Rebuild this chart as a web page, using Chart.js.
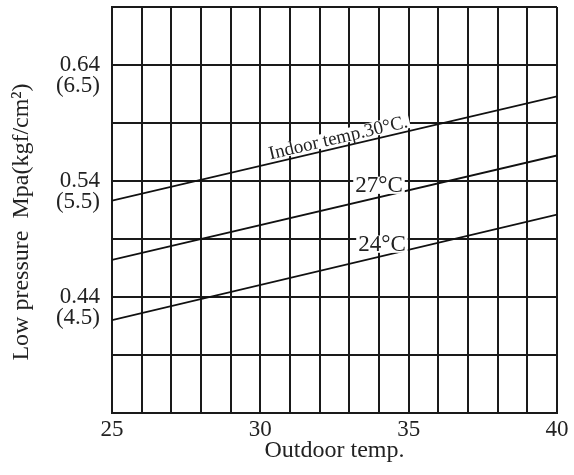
<!DOCTYPE html>
<html lang="en">

<head>
    <meta charset="UTF-8" />
    <title>Low pressure</title>
    <script src="https://cdn.jsdelivr.net/npm/chart.js"></script>
    <style>
        body { margin: 0; background: #fff; }
        .box_grafico { width: 574px; height: 475px; }
    </style>
</head>

<body>
    <div class="box_grafico">
        <canvas id="mychart_pressao"></canvas>
    </div>
</body>

<script>

    // dados
    var temp_externa = [25, 40];
    var indoor_30 = [0.523, 0.613];
    var indoor_27 = [0.472, 0.562];
    var indoor_24 = [0.420, 0.511];
    var nomes_linhas = ['Indoor temp.30°C.', '27°C', '24°C'];

    var grade_y = [0.34, 0.39, 0.44, 0.49, 0.54, 0.59, 0.64, 0.69];
    var ticks_mpa = [0.44, 0.54, 0.64];
    var ticks_kgf = ['(4.5)', '(5.5)', '(6.5)'];
    var ticks_x = [25, 30, 35, 40];

    var fonte = 'Liberation Serif, Times New Roman, serif';

    function pontos(valores) {
        var lista = [];
        for (var i = 0; i < temp_externa.length; i++) {
            lista.push({ x: temp_externa[i], y: valores[i] });
        }
        return lista;
    }

    // rotulos das linhas, com fundo branco por cima da grade
    var rotulos = {
        id: 'rotulos',
        afterDatasetsDraw: function (chart) {
            var ctx = chart.ctx;
            var sx = chart.scales.x;
            var sy = chart.scales.y;
            var config = [
                { ds: 0, x: 32.7, dist: 10, gira: true, size: 19 },
                { ds: 1, x: 34.0, dist: 12, gira: false, size: 23 },
                { ds: 2, x: 34.1, dist: 12, gira: false, size: 23 }
            ];
            config.forEach(function (c) {
                var d = chart.data.datasets[c.ds].data;
                var x0 = sx.getPixelForValue(d[0].x), y0 = sy.getPixelForValue(d[0].y);
                var x1 = sx.getPixelForValue(d[1].x), y1 = sy.getPixelForValue(d[1].y);
                var px = sx.getPixelForValue(c.x);
                var py = y0 + (y1 - y0) * (px - x0) / (x1 - x0);
                var ang = Math.atan2(y1 - y0, x1 - x0);
                var texto = nomes_linhas[c.ds];
                ctx.save();
                ctx.font = c.size + 'px ' + fonte;
                if (c.gira) {
                    ctx.translate(px + Math.sin(ang) * c.dist, py - Math.cos(ang) * c.dist);
                    ctx.rotate(ang);
                } else {
                    ctx.translate(px, py - c.dist);
                }
                var w = ctx.measureText(texto).width;
                var h = c.size * 0.75;
                ctx.fillStyle = '#fff';
                ctx.fillRect(-w / 2 - 2, -h / 2, w + 4, h);
                ctx.fillStyle = '#222';
                ctx.textAlign = 'center';
                ctx.textBaseline = 'middle';
                ctx.fillText(texto, 0, 1);
                ctx.restore();
            });
        },
        afterDraw: function (chart) {
            var ctx = chart.ctx;
            ctx.save();
            ctx.translate(22, 222);
            ctx.rotate(-Math.PI / 2);
            ctx.font = '24px ' + fonte;
            ctx.fillStyle = '#222';
            ctx.textAlign = 'center';
            ctx.textBaseline = 'middle';
            ctx.fillText('Low pressure  Mpa(kgf/cm²)', 0, 0);
            ctx.restore();
        }
    };

    const dados_pressao = document.getElementById('mychart_pressao');

    new Chart(dados_pressao, {
        type: 'line',
        data: {
            datasets: [
                { label: nomes_linhas[0], data: pontos(indoor_30) },
                { label: nomes_linhas[1], data: pontos(indoor_27) },
                { label: nomes_linhas[2], data: pontos(indoor_24) }
            ].map(function (ds) {
                ds.borderColor = '#111';
                ds.borderWidth = 1.8;
                ds.pointRadius = 0;
                ds.fill = false;
                return ds;
            })
        },
        options: {
            responsive: true,
            maintainAspectRatio: false,
            animation: false,
            layout: { padding: { top: 7, right: 17, left: 0, bottom: 0 } },
            plugins: {
                legend: { display: false },
                tooltip: { enabled: false }
            },
            scales: {
                x: {
                    type: 'linear',
                    min: 25,
                    max: 40,
                    afterFit: function (scale) { scale.height = 62; },
                    grid: { color: '#1a1a1a', lineWidth: 2, drawTicks: false },
                    border: { color: '#1a1a1a', width: 2 },
                    ticks: {
                        stepSize: 1,
                        autoSkip: false,
                        maxRotation: 0,
                        padding: 3,
                        color: '#222',
                        font: { family: fonte, size: 23 },
                        callback: function (v) {
                            return ticks_x.indexOf(v) >= 0 ? String(v) : '';
                        }
                    },
                    title: {
                        display: true,
                        text: 'Outdoor temp.',
                        color: '#222',
                        font: { family: fonte, size: 24 },
                        padding: { top: 0, bottom: 10 }
                    }
                },
                y: {
                    type: 'linear',
                    min: 0.34,
                    max: 0.69,
                    afterFit: function (scale) {
                        scale.width = 112;
                        scale.paddingTop = 0;
                        scale.paddingBottom = 0;
                    },
                    afterBuildTicks: function (scale) {
                        scale.ticks = grade_y.map(function (v) { return { value: v }; });
                    },
                    grid: { color: '#1a1a1a', lineWidth: 2, drawTicks: false },
                    border: { color: '#1a1a1a', width: 2 },
                    ticks: {
                        autoSkip: false,
                        padding: 12,
                        color: '#222',
                        font: { family: fonte, size: 23, lineHeight: 0.93 },
                        callback: function (v) {
                            for (var i = 0; i < ticks_mpa.length; i++) {
                                if (Math.abs(v - ticks_mpa[i]) < 1e-6) {
                                    return ['', ticks_mpa[i].toFixed(2), ticks_kgf[i]];
                                }
                            }
                            return '';
                        }
                    }
                }
            }
        },
        plugins: [rotulos]
    });

</script>

</html>
